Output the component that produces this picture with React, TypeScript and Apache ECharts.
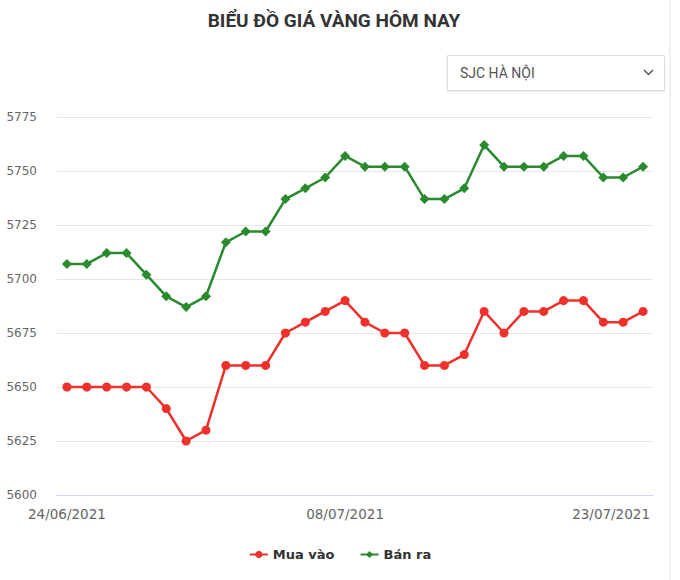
import React, { useEffect, useRef } from "react";
import * as echarts from "echarts";

const dates = [
  "24/06/2021", "25/06/2021", "26/06/2021", "27/06/2021", "28/06/2021", "29/06/2021", "30/06/2021",
  "01/07/2021", "02/07/2021", "03/07/2021", "04/07/2021", "05/07/2021", "06/07/2021", "07/07/2021",
  "08/07/2021", "09/07/2021", "10/07/2021", "11/07/2021", "12/07/2021", "13/07/2021", "14/07/2021",
  "15/07/2021", "16/07/2021", "17/07/2021", "18/07/2021", "19/07/2021", "20/07/2021", "21/07/2021",
  "22/07/2021", "23/07/2021",
];

const muaVao = [
  5650, 5650, 5650, 5650, 5650, 5640, 5625, 5630, 5660, 5660,
  5660, 5675, 5680, 5685, 5690, 5680, 5675, 5675, 5660, 5660,
  5665, 5685, 5675, 5685, 5685, 5690, 5690, 5680, 5680, 5685,
];

const banRa = [
  5707, 5707, 5712, 5712, 5702, 5692, 5687, 5692, 5717, 5722,
  5722, 5737, 5742, 5747, 5757, 5752, 5752, 5752, 5737, 5737,
  5742, 5762, 5752, 5752, 5752, 5757, 5757, 5747, 5747, 5752,
];

const shownLabelIdx = [0, 14, 29];

export default function App() {
  const ref = useRef<HTMLDivElement>(null);

  useEffect(() => {
    if (!ref.current) return;
    const chart = echarts.init(ref.current, null, { renderer: "svg" });
    const last = dates.length - 1;
    chart.setOption({
      animation: false,
      backgroundColor: "#ffffff",
      title: {
        text: "BIỂU ĐỒ GIÁ VÀNG HÔM NAY",
        left: 329,
        top: 6,
        textAlign: "center",
        textStyle: {
          fontFamily: "Roboto",
          fontWeight: "bold",
          fontSize: 19,
          color: "#333333",
        },
      },
      legend: {
        bottom: 14,
        left: "center",
        itemWidth: 18,
        itemHeight: 9,
        itemGap: 25,
        textStyle: {
          fontFamily: "DejaVu Sans",
          fontWeight: "bold",
          fontSize: 13,
          color: "#333333",
        },
        data: ["Mua vào", "Bán ra"],
      },
      grid: {
        left: 57,
        right: 27,
        top: 117,
        bottom: 85,
        containLabel: false,
      },
      xAxis: {
        type: "category",
        data: dates,
        boundaryGap: true,
        axisLine: { lineStyle: { color: "#ccd6eb", width: 1 } },
        axisTick: { show: false },
        axisLabel: {
          interval: (i: number) => shownLabelIdx.includes(i),
          fontFamily: "DejaVu Sans",
          fontSize: 13.5,
          color: "#666666",
          margin: 12,
          formatter: (v: string, i: number) => (i === last ? "{r|" + v + "}" : v),
          rich: {
            r: {
              fontFamily: "DejaVu Sans",
              fontSize: 13.5,
              color: "#666666",
              padding: [0, 64, 0, 0],
            },
          },
        },
        splitLine: { show: false },
      },
      yAxis: {
        type: "value",
        min: 5600,
        max: 5775,
        interval: 25,
        axisLine: { show: false },
        axisTick: { show: false },
        axisLabel: {
          fontFamily: "DejaVu Sans",
          fontSize: 12,
          color: "#666666",
          margin: 20,
          formatter: (v: number) => String(v),
        },
        splitLine: { lineStyle: { color: "#e6e6e6", width: 1 } },
      },
      series: [
        {
          name: "Mua vào",
          type: "line",
          data: muaVao,
          symbol: "circle",
          symbolSize: 9,
          itemStyle: { color: "#f0302a" },
          lineStyle: { color: "#f0302a", width: 2.5 },
        },
        {
          name: "Bán ra",
          type: "line",
          data: banRa,
          symbol: "diamond",
          symbolSize: 10,
          itemStyle: { color: "#2a8a2e" },
          lineStyle: { color: "#2a8a2e", width: 2.5 },
        },
      ],
      graphic: [
        {
          type: "rect",
          shape: { x: 447.5, y: 55.5, width: 217, height: 35 },
          style: {
            fill: "#ffffff",
            stroke: "#dddddd",
            lineWidth: 1,
            shadowBlur: 2,
            shadowColor: "rgba(0,0,0,0.08)",
            shadowOffsetY: 1,
          },
        },
        {
          type: "text",
          x: 460,
          y: 73,
          style: {
            text: "SJC HÀ NỘI",
            fontFamily: "Roboto",
            fontSize: 14,
            fill: "#555555",
            verticalAlign: "middle",
            align: "left",
          },
        },
        {
          type: "polyline",
          shape: { points: [[644, 70], [648.5, 74.5], [653, 70]] },
          style: { stroke: "#555555", lineWidth: 1.5, fill: "none" },
        },
        {
          type: "rect",
          shape: { x: 669, y: 0, width: 2, height: 580 },
          style: { fill: "#f0f0f0" },
        },
      ],
    });
    return () => chart.dispose();
  }, []);

  return (
    <div
      ref={ref}
      style={{ position: "fixed", left: 0, top: 0, width: 680, height: 580 }}
    />
  );
}
